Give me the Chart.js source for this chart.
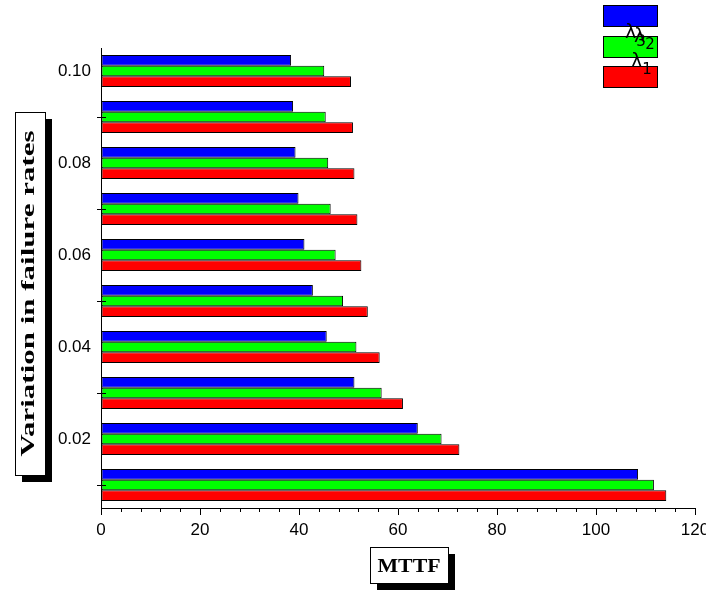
<!DOCTYPE html>
<html>
<head>
<meta charset="utf-8">
<script src="https://cdn.jsdelivr.net/npm/chart.js@4.4.0/dist/chart.umd.min.js"></script>
<style>
html,body{margin:0;padding:0;background:#fff;}
</style>
</head>
<body>
<canvas id="myChart" width="706" height="593"></canvas>
<script>
// categories, top to bottom
var rates = ['0.10','0.09','0.08','0.07','0.06','0.05','0.04','0.03','0.02','0.01'];
var rateLabels = ['0.10','0.08','0.06','0.04','0.02'];

// MTTF values
var lambda3 = [38.4, 38.8, 39.3, 39.9, 41.1, 42.8, 45.6, 51.2, 64.0, 108.5];
var lambda2 = [45.1, 45.4, 45.9, 46.4, 47.4, 48.9, 51.6, 56.7, 68.8, 111.7];
var lambda1 = [50.5, 50.9, 51.2, 51.8, 52.6, 53.9, 56.3, 61.0, 72.4, 114.2];

var seriesNames = ['λ3', 'λ2', 'λ1'];
var seriesColors = ['rgb(0,0,255)', 'rgb(0,255,0)', 'rgb(255,0,0)'];

var xMin = 0, xMax = 120, xStep = 20, xMinor = 4;
var yTitle = 'Variation in failure rates';
var xTitle = 'MTTF';

function stretchText(ctx, text, x, y, font, sx, rot, align) {
  ctx.save();
  ctx.translate(x, y);
  ctx.rotate(rot);
  ctx.scale(sx, 1);
  ctx.font = font;
  ctx.fillStyle = '#000';
  ctx.textAlign = align || 'center';
  ctx.textBaseline = 'alphabetic';
  ctx.fillText(text, 0, 0);
  ctx.restore();
}

function shadowBox(ctx, x, y, w, h, d) {
  ctx.fillStyle = '#000';
  ctx.fillRect(x + d, y + d, w, h);
  ctx.fillStyle = '#fff';
  ctx.fillRect(x, y, w, h);
  ctx.strokeStyle = '#000';
  ctx.lineWidth = 1;
  ctx.strokeRect(x + 0.5, y + 0.5, w, h);
}

var decor = {
  id: 'decor',
  afterDraw: function(chart) {
    var ctx = chart.ctx;
    var xs = chart.scales.x, ys = chart.scales.y;
    ctx.save();
    ctx.strokeStyle = '#000';
    ctx.lineWidth = 1;
    // small ticks on the unlabelled categories
    rates.forEach(function(r, i) {
      if (rateLabels.indexOf(r) < 0) {
        var py = Math.round(ys.getPixelForValue(i)) + 0.5;
        ctx.beginPath();
        ctx.moveTo(ys.right - 4, py);
        ctx.lineTo(ys.right + 5, py);
        ctx.stroke();
      }
    });
    // minor ticks on x
    for (var v = xMin; v <= xMax; v += xMinor) {
      if (v % xStep === 0) continue;
      var px = Math.round(xs.getPixelForValue(v)) + 0.5;
      ctx.beginPath();
      ctx.moveTo(px, xs.top);
      ctx.lineTo(px, xs.top + 4);
      ctx.stroke();
    }

    // y title box
    shadowBox(ctx, 15, 112, 30, 363, 7);
    stretchText(ctx, yTitle, 34, 293.5, 'bold 19px "Liberation Serif"', 1.63, -Math.PI / 2);

    // x title box
    shadowBox(ctx, 370, 547, 78, 36, 7);
    stretchText(ctx, xTitle, 409, 572, 'bold 19px "Liberation Serif"', 1.15, 0);

    // legend
    var labelPos = [[625, 38, 46], [634, 42, 49], [631, 67, 74]];
    chart.data.datasets.forEach(function(ds, i) {
      var by = 5 + i * 30.5;
      ctx.fillStyle = ds.backgroundColor;
      ctx.fillRect(603, Math.round(by), 54, 21);
      ctx.strokeStyle = '#000';
      ctx.strokeRect(603.5, Math.round(by) + 0.5, 54, 21);
    });
    chart.data.datasets.forEach(function(ds, i) {
      var p = labelPos[i];
      ctx.fillStyle = '#000';
      ctx.textAlign = 'left';
      ctx.textBaseline = 'alphabetic';
      ctx.font = '19px "DejaVu Sans"';
      ctx.fillText(ds.label.charAt(0), p[0], p[1]);
      var w = ctx.measureText(ds.label.charAt(0)).width;
      ctx.font = '15px "DejaVu Sans"';
      ctx.fillText(ds.label.slice(1), p[0] + w, p[2]);
    });
    ctx.restore();
  }
};

var seriesData = [lambda3, lambda2, lambda1];

var ctx = document.getElementById('myChart').getContext('2d');
var chart = new Chart(ctx, {
  type: 'bar',
  data: {
    labels: rates,
    datasets: seriesNames.map(function(name, i) {
      return {
        label: name,
        data: seriesData[i],
        backgroundColor: seriesColors[i],
        borderColor: '#000',
        borderWidth: 1,
        borderSkipped: false,
        categoryPercentage: 0.7,
        barPercentage: 1.0
      };
    })
  },
  options: {
    indexAxis: 'y',
    responsive: false,
    animation: false,
    devicePixelRatio: 1,
    layout: { padding: { top: 48, right: 11, left: 0, bottom: 0 } },
    plugins: { legend: { display: false }, tooltip: { enabled: false } },
    scales: {
      x: {
        min: xMin,
        max: xMax,
        grid: { drawOnChartArea: false, drawTicks: true, tickLength: 7, color: '#000' },
        border: { display: true, color: '#000', width: 1 },
        ticks: {
          stepSize: xStep,
          color: '#000',
          padding: 5,
          maxRotation: 0,
          font: { family: '"Liberation Sans", Arial', size: 17 }
        },
        afterFit: function(s) { s.height = 85; s.paddingLeft = 0; s.paddingRight = 0; }
      },
      y: {
        grid: { display: false },
        border: { display: true, color: '#000', width: 1 },
        ticks: {
          autoSkip: false,
          color: '#000',
          padding: 2,
          font: { family: '"Liberation Sans", Arial', size: 17 },
          callback: function(val) {
            var l = this.getLabelForValue(val);
            return rateLabels.indexOf(l) >= 0 ? l : '';
          }
        },
        afterFit: function(s) { s.width = 101; s.paddingTop = 0; s.paddingBottom = 0; }
      }
    }
  },
  plugins: [decor]
});
</script>
</body>
</html>
